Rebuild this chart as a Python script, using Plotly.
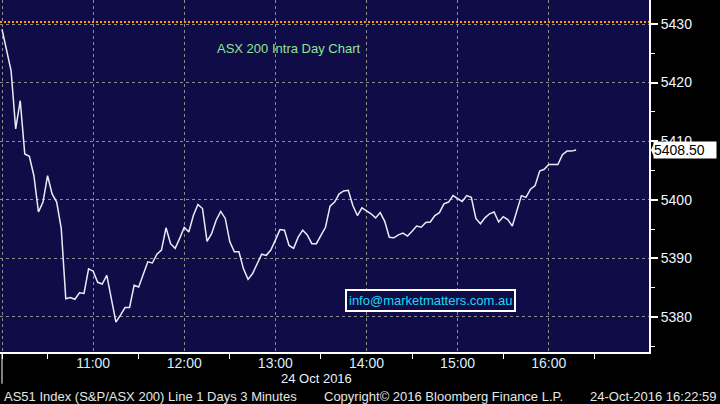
import plotly.graph_objects as go
import pandas as pd

# ---- data (ASX 200 intraday, 3-minute bars, 24 Oct 2016) ----
start_time = "2016-10-24 10:00"
bar_minutes = 3
prices = [
    5429.1, 5425.7, 5422.0, 5412.1, 5416.9, 5407.8, 5407.4, 5404.1, 5397.9, 5399.6,
    5404.1, 5401.0, 5399.6, 5395.1, 5383.1, 5383.3, 5383.0, 5384.1, 5384.0, 5388.2,
    5387.8, 5385.9, 5385.6, 5387.1, 5383.2, 5379.1, 5380.3, 5381.6, 5381.6, 5385.4,
    5385.1, 5387.4, 5389.4, 5389.2, 5390.7, 5391.4, 5395.2, 5392.5, 5391.7, 5393.4,
    5395.3, 5394.5, 5397.3, 5399.2, 5398.5, 5392.9, 5394.2, 5396.5, 5398.0, 5396.8,
    5392.8, 5391.1, 5391.1, 5388.2, 5386.4, 5387.4, 5389.0, 5390.7, 5390.5, 5391.4,
    5393.1, 5394.9, 5394.8, 5392.2, 5391.7, 5393.6, 5394.8, 5394.0, 5392.5, 5392.5,
    5393.9, 5395.3, 5398.9, 5399.6, 5401.0, 5401.5, 5401.6, 5399.0, 5397.3, 5398.6,
    5398.1, 5397.6, 5396.9, 5397.8, 5396.3, 5393.6, 5393.5, 5394.0, 5394.3, 5393.8,
    5394.6, 5395.5, 5395.3, 5396.1, 5396.2, 5397.3, 5397.8, 5399.3, 5399.6, 5400.7,
    5400.2, 5399.7, 5400.7, 5400.4, 5396.8, 5395.9, 5396.9, 5397.6, 5397.9, 5396.2,
    5397.1, 5396.6, 5395.5, 5398.2, 5400.7, 5400.4, 5401.8, 5402.4, 5404.9, 5405.2,
    5406.0, 5406.0, 5406.0, 5407.7, 5408.3, 5408.3, 5408.5,
]
last_price = 5408.50
prev_close = 5430.35

hour_ticks = ["2016-10-24 10:00", "2016-10-24 11:00", "2016-10-24 12:00", "2016-10-24 13:00",
              "2016-10-24 14:00", "2016-10-24 15:00", "2016-10-24 16:00"]
hour_labels = ["", "11:00", "12:00", "13:00", "14:00", "15:00", "16:00"]
half_ticks = ["2016-10-24 10:00", "2016-10-24 10:30", "2016-10-24 11:30", "2016-10-24 12:30",
              "2016-10-24 13:30", "2016-10-24 14:30", "2016-10-24 15:30", "2016-10-24 16:30"]
x_range = ["2016-10-24 09:58:41", "2016-10-24 17:06:00"]
y_range = [5374.0, 5434.1]

title_text = "ASX 200 Intra Day Chart"
contact_text = "info@marketmatters.com.au"
date_text = "24 Oct 2016"
footer_left = "AS51 Index (S&P/ASX 200) Line 1 Days 3 Minutes"
footer_mid = "Copyright\u00a9 2016 Bloomberg Finance L.P."
footer_right = "24-Oct-2016 16:22:59"

times = pd.date_range(start_time, periods=len(prices), freq=f"{bar_minutes}min")

FONT = "Liberation Sans, Arial, sans-serif"
BG = "#100c48"
GRID = "#8c8c8c"

fig = go.Figure()
fig.add_trace(go.Scatter(x=times, y=prices, mode="lines",
                         line=dict(color="#ecebf5", width=1.5), hoverinfo="skip",
                         showlegend=False))

fig.update_layout(
    width=720, height=404,
    margin=dict(l=0, r=71, t=0, b=52, autoexpand=False),
    paper_bgcolor="#000000",
    plot_bgcolor=BG,
    font=dict(family=FONT, size=13, color="#e8f0ff"),
    xaxis=dict(
        type="date", range=x_range, automargin=False,
        tickmode="array", tickvals=hour_ticks, ticktext=hour_labels,
        ticks="", ticklabelstandoff=-3,
        showgrid=True, gridcolor=GRID, griddash="dot", gridwidth=1,
        showline=True, linecolor="#ffffff", linewidth=2,
        tickfont=dict(family=FONT, size=14, color="#dcecff"),
        minor=dict(tickmode="array", tickvals=half_ticks, ticks="outside",
                   ticklen=5, tickcolor="#ffffff", tickwidth=1, showgrid=False),
        zeroline=False, fixedrange=True,
    ),
    yaxis=dict(
        side="right", range=y_range, dtick=10, tick0=5380, automargin=False,
        ticks="outside", ticklen=7, tickwidth=2, tickcolor="#ffffff",
        showgrid=True, gridcolor=GRID, griddash="dot", gridwidth=1,
        showline=True, linecolor="#ffffff", linewidth=2,
        tickfont=dict(family=FONT, size=14, color="#f0f6ff"),
        minor=dict(dtick=5, ticks="outside", ticklen=4, tickcolor="#ffffff",
                   tickwidth=1, showgrid=False),
        zeroline=False, fixedrange=True,
    ),
)

# previous close reference line (orange dotted)
fig.add_shape(type="line", xref="paper", x0=0, x1=1, yref="y", y0=prev_close, y1=prev_close,
              line=dict(color="#ff9a00", width=2, dash="2px,2px"))

# day separator tick at 10:00
fig.add_shape(type="line", xref="x", x0=hour_ticks[0], x1=hour_ticks[0],
              yref="paper", y0=0, y1=-0.09, line=dict(color="#ffffff", width=1))

# title
fig.add_annotation(text=title_text, xref="paper", yref="paper", x=0.4438, y=0.861,
                   yanchor="middle", showarrow=False,
                   font=dict(family=FONT, size=13, color="#8fe68f"))

# contact box
fig.add_annotation(text=contact_text, xref="paper", yref="paper", x=0.6626, y=0.1463,
                   yanchor="middle", showarrow=False,
                   font=dict(family=FONT, size=13, color="#19d9f0"),
                   bordercolor="#ffffff", borderwidth=2, borderpad=2, bgcolor=BG)

# last value tag
fig.add_annotation(text=f"{last_price:.2f}", xref="paper", yref="y",
                   x=1, y=last_price, xanchor="left", yanchor="middle", xshift=4,
                   showarrow=False, width=62, align="left",
                   font=dict(family=FONT, size=14, color="#000000"),
                   bgcolor="#ffffff", borderpad=0)
fig.add_shape(type="path", xref="paper", yref="y",
              path=f"M 1.003 {last_price} L 1.0075 {last_price + 1.1} L 1.0075 {last_price - 1.1} Z",
              fillcolor="#ffffff", line=dict(width=0))

# date under axis
fig.add_annotation(text=date_text, xref="paper", yref="paper", x=0.487, y=-0.074,
                   yanchor="middle", showarrow=False,
                   font=dict(family=FONT, size=13, color="#e8f0ff"))

# footer
for txt, xp in [(footer_left, 0.003), (footer_mid, 0.496), (footer_right, 0.906)]:
    fig.add_annotation(text=txt, xref="paper", yref="paper", x=xp, y=-0.125,
                       xanchor="left", yanchor="middle", showarrow=False,
                       font=dict(family=FONT, size=13, color="#e6e6e6"))

fig.write_html("out.html", config={"displayModeBar": False},
               post_script="document.body.style.margin='0';document.body.style.background='#000';")
